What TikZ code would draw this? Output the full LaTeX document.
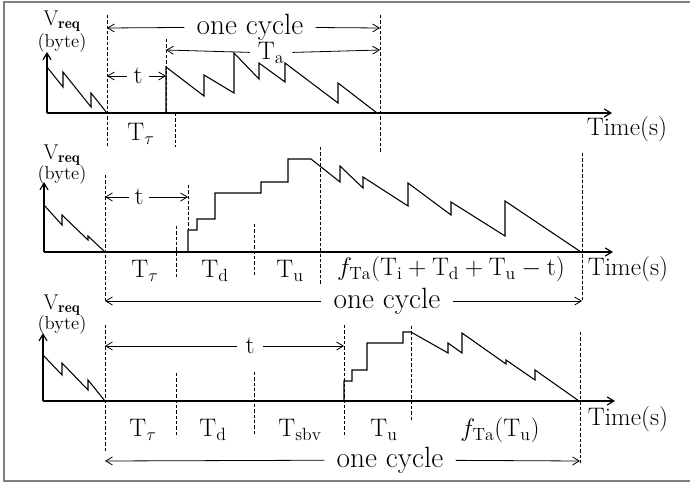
\RequirePackage{fix-cm}
\documentclass[tikz,border=0pt]{standalone}
\usepackage{amsmath}
\usepackage{fontspec}
\usepackage{tikz}
\usetikzlibrary{arrows.meta, positioning}

\begin{document}
\begin{tikzpicture}[
    x=0.75pt, y=-0.75pt,
    wave/.style={line width=0.8pt, line join=miter},
    axis/.style={line width=0.9pt, -{Straight Barb[length=5pt,width=6pt]}},
    guide/.style={dash pattern=on 2.4pt off 1.6pt, line width=0.7pt},
    span/.style={line width=0.6pt, -{Straight Barb[length=5pt,width=6pt]}},
    lbl/.style={inner sep=1pt, font=\fontsize{19}{22}\selectfont},
    cyc/.style={inner xsep=9pt, inner ysep=0pt, font=\fontsize{22}{25}\selectfont},
    vlbl/.style={inner sep=0pt, font=\fontsize{16}{18}\selectfont},
    unit/.style={inner sep=0pt, font=\fontsize{14}{16}\selectfont}
]
\useasboundingbox (0,0) rectangle (690,485);
\draw[gray, line width=1pt] (690,2) -- (4,2) -- (4,481) -- (690,481);

% first case
\draw[axis] (47,113) -- (47,52);
\draw[axis] (47,113) -- (612,113);
\node[vlbl] (vA) at (62,21) {$\mathrm{V}_{\mathbf{req}}$};
\node[unit] (bA) at (62,43) {(byte)};
\draw[wave] (47,67) -- (63,87) -- (63,72) -- (91,107) -- (91,93) -- (107,113);
\draw[wave] (166,113) -- (166,67) -- (204,96) -- (204,75) -- (234,93) -- (234,53) -- (259,79)
    -- (259,63) -- (285,82) -- (285,63) -- (338,103) -- (338,83) -- (377,113);
\draw[guide] (107,15) -- (107,147);
\draw[guide] (166,39) -- (166,113);
\draw[guide] (175,113) -- (175,147);
\draw[guide] (380,15) -- (380,153);
\coordinate (cA0) at (107,28);
\coordinate (cA1) at (380,28);
\node[cyc] (cycA) at (250,27) {one cycle};
\draw[span] (cycA) -- (cA0);
\draw[span] (cycA) -- (cA1);
\coordinate (aA0) at (166,50);
\coordinate (aA1) at (380,50);
\node[lbl, inner xsep=6pt, inner ysep=0pt] (TaA) at (271,53) {$\mathrm{T}_\mathrm{a}$};
\draw[span] (TaA) -- (aA0);
\draw[span] (TaA) -- (aA1);
\coordinate (tA0) at (107,76);
\coordinate (tA1) at (166,76);
\node[lbl, inner sep=5pt] (tA) at (138,76) {t};
\draw[span] (tA) -- (tA0);
\draw[span] (tA) -- (tA1);
\node[lbl] (tauA) at (141,134) {$\mathrm{T}_\tau$};
\node[lbl] (timeA) at (627,129) {Time(s)};

% second case
\draw[axis] (44,252) -- (44,182);
\draw[axis] (44,252) -- (613,252);
\node[vlbl] (vB) at (62,155) {$\mathrm{V}_{\mathbf{req}}$};
\node[unit] (bB) at (62,175) {(byte)};
\draw[wave] (44,205) -- (62,225) -- (62,215) -- (88,240) -- (88,236) -- (105,252);
\draw[wave] (188,252) -- (188,230) -- (197,230) -- (197,219) -- (215,219) -- (215,193)
    -- (261,193) -- (261,182) -- (288,182) -- (288,159) -- (311,159) -- (340,182)
    -- (340,166) -- (363,188) -- (363,177) -- (408,206) -- (408,183) -- (451,215)
    -- (451,202) -- (505,236) -- (505,201) -- (581,252);
\draw[guide] (105,175) -- (105,303);
\draw[guide] (188,185) -- (188,230);
\draw[guide] (176,226) -- (176,278);
\draw[guide] (254,224) -- (254,277);
\draw[guide] (320,147) -- (320,285);
\draw[guide] (582,153) -- (582,301);
\coordinate (tB0) at (105,197);
\coordinate (tB1) at (188,197);
\node[lbl, inner sep=4pt] (tB) at (139,197) {t};
\draw[span] (tB) -- (tB0);
\draw[span] (tB) -- (tB1);
\node[lbl] (tauB) at (145,271) {$\mathrm{T}_\tau$};
\node[lbl] (dB) at (215,271) {$\mathrm{T}_\mathrm{d}$};
\node[lbl] (uB) at (290,271) {$\mathrm{T}_\mathrm{u}$};
\node[lbl, inner sep=0pt] (fB) at (451,269) {$f_{\mathrm{Ta}}(\mathrm{T}_\mathrm{i} + \mathrm{T}_\mathrm{d} + \mathrm{T}_\mathrm{u} - \mathrm{t})$};
\node[lbl] (timeB) at (628,269) {Time(s)};
\coordinate (cB0) at (105,301);
\coordinate (cB1) at (582,301);
\node[cyc] (cycB) at (387,301) {one cycle};
\draw[span] (cycB) -- (cB0);
\draw[span] (cycB) -- (cB1);

% third case
\draw[axis] (43,401) -- (43,333);
\draw[axis] (43,401) -- (615,401);
\node[vlbl] (vC) at (62,305) {$\mathrm{V}_{\mathbf{req}}$};
\node[unit] (bC) at (62,325) {(byte)};
\draw[wave] (43,355) -- (62,375) -- (62,363) -- (88,390) -- (88,380) -- (105,401);
\draw[wave] (344,401) -- (344,381) -- (352,381) -- (352,370) -- (367,370) -- (367,343)
    -- (403,343) -- (403,332) -- (411,332) -- (448,353) -- (448,343) -- (462,353)
    -- (462,333) -- (506,364) -- (506,360) -- (535,380) -- (535,370) -- (579,401);
\draw[guide] (105,325) -- (105,453);
\draw[guide] (176,373) -- (176,437);
\draw[guide] (254,372) -- (254,435);
\draw[guide] (344,325) -- (344,437);
\draw[guide] (411,326) -- (411,420);
\draw[guide] (580,332) -- (580,465);
\coordinate (tC0) at (105,346);
\coordinate (tC1) at (344,346);
\node[lbl, inner sep=6pt] (tC) at (250,346) {t};
\draw[span] (tC) -- (tC0);
\draw[span] (tC) -- (tC1);
\node[lbl] (tauC) at (143,430) {$\mathrm{T}_\tau$};
\node[lbl] (dC) at (213,430) {$\mathrm{T}_\mathrm{d}$};
\node[lbl] (sC) at (300,430) {$\mathrm{T}_\mathrm{sbv}$};
\node[lbl] (uC) at (384,430) {$\mathrm{T}_\mathrm{u}$};
\node[lbl] (fC) at (500,430) {$f_{\mathrm{Ta}}(\mathrm{T}_\mathrm{u})$};
\node[lbl] (timeC) at (628,419) {Time(s)};
\coordinate (cC0) at (105,461);
\coordinate (cC1) at (580,461);
\node[cyc] (cycC) at (390,460) {one cycle};
\draw[span] (cycC) -- (cC0);
\draw[span] (cycC) -- (cC1);
\end{tikzpicture}
\end{document}
